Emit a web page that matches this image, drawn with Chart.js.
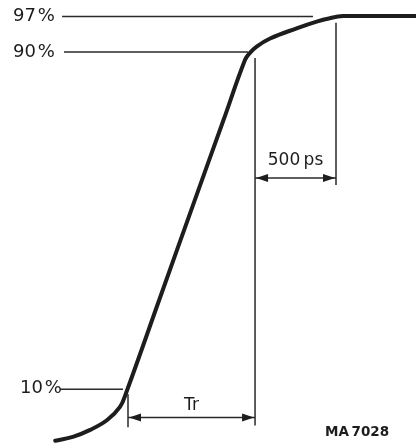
<!DOCTYPE html>
<html>
<head>
<meta charset="utf-8">
<script src="https://cdn.jsdelivr.net/npm/chart.js@4/dist/chart.umd.min.js"></script>
<style>
html, body { margin: 0; padding: 0; background: #fff; }
#wrap { width: 416px; height: 443px; }
</style>
</head>
<body>
<div id="wrap"><canvas id="chart" width="416" height="443"></canvas></div>
<script>
// x: time in ps from the 10% crossing, y: level in % (schematic, not to scale at the top)
const curveTime  = [-455, -345, -240, -130, -50, -12, 195, 418, 597, 731, 762, 804, 888, 1054, 1179, 1262, 1344, 1450, 1800];
const curveLevel = [-2.0, -1.1, 0.5, 2.9, 6.0, 9.3, 31.3, 55.0, 73.9, 88.1, 89.8, 91.3, 93.2, 95.6, 97.2, 98.0, 98.5, 98.5, 98.5];

const levelNames  = ['97\u200A%', '90\u200A%', '10\u200A%'];
const levelValues = [98.4, 90.0, 10.2];
const levelStart  = [-412, -400, -425];
const levelEnd    = [1156, 750, -31];
const levelLabelT = [-719, -719, -675];
const levelLabelV = [97.4, 88.9, 9.2];

const markerTime   = [0, 794, 1300];
const markerTop    = [9.0, 88.6, 96.9];
const markerBottom = [1.2, 1.6, 58.5];

const spanNames  = ['Tr', '500\u2009ps'];
const spanFrom   = [0, 794];
const spanTo     = [794, 1300];
const spanLevel  = [3.5, 60.2];
const spanLabelV = [5.3, 63.3];

const figureCode = 'MA\u20097028';

const ink = '#1d1d1d';
const thin = '#2a2a2a';

const datasets = [];
datasets.push({
  data: curveTime.map((t, i) => ({ x: t, y: curveLevel[i] })),
  borderColor: ink, borderWidth: 4, tension: 0.4,
  borderCapStyle: 'round', borderJoinStyle: 'round'
});
levelValues.forEach((v, i) => {
  datasets.push({ data: [{ x: levelStart[i], y: v }, { x: levelEnd[i], y: v }], borderColor: thin, borderWidth: 1.5 });
});
markerTime.forEach((t, i) => {
  datasets.push({ data: [{ x: t, y: markerTop[i] }, { x: t, y: markerBottom[i] }], borderColor: thin, borderWidth: 1.5 });
});
spanFrom.forEach((f, i) => {
  datasets.push({ data: [{ x: f, y: spanLevel[i] }, { x: spanTo[i], y: spanLevel[i] }], borderColor: thin, borderWidth: 1.5 });
});

const annotate = {
  id: 'annotate',
  afterDatasetsDraw(chart) {
    const ctx = chart.ctx;
    const xs = chart.scales.x, ys = chart.scales.y;
    ctx.save();
    ctx.fillStyle = ink;
    // arrowheads
    spanFrom.forEach((f, i) => {
      const x1 = xs.getPixelForValue(f), x2 = xs.getPixelForValue(spanTo[i]);
      const y = ys.getPixelForValue(spanLevel[i]);
      [[x1, 1], [x2, -1]].forEach(([x, d]) => {
        ctx.beginPath();
        ctx.moveTo(x + 1 * d, y);
        ctx.lineTo(x + 13 * d, y - 4);
        ctx.lineTo(x + 13 * d, y + 4);
        ctx.closePath();
        ctx.fill();
      });
    });
    ctx.textBaseline = 'alphabetic';
    ctx.font = '18px "DejaVu Sans"';
    ctx.textAlign = 'left';
    levelNames.forEach((n, i) => {
      ctx.fillText(n, xs.getPixelForValue(levelLabelT[i]), ys.getPixelForValue(levelLabelV[i]));
    });
    ctx.font = '17px "DejaVu Sans"';
    ctx.textAlign = 'center';
    spanNames.forEach((n, i) => {
      const mid = (spanFrom[i] + spanTo[i]) / 2;
      ctx.fillText(n, xs.getPixelForValue(mid), ys.getPixelForValue(spanLabelV[i]));
    });
    ctx.font = 'bold 13.5px "DejaVu Sans"';
    ctx.textAlign = 'left';
    ctx.fillText(figureCode, xs.getPixelForValue(1231), ys.getPixelForValue(-0.9));
    ctx.restore();
  }
};

new Chart(document.getElementById('chart'), {
  type: 'scatter',
  data: { datasets },
  options: {
    responsive: false,
    animation: false,
    showLine: true,
    layout: { padding: 0 },
    elements: { point: { radius: 0, hoverRadius: 0 } },
    scales: {
      x: { type: 'linear', display: false, min: -800, max: 1800 },
      y: { type: 'linear', display: false, min: -2.544, max: 102.308 }
    },
    plugins: { legend: { display: false }, tooltip: { enabled: false } }
  },
  plugins: [annotate]
});
</script>
</body>
</html>
